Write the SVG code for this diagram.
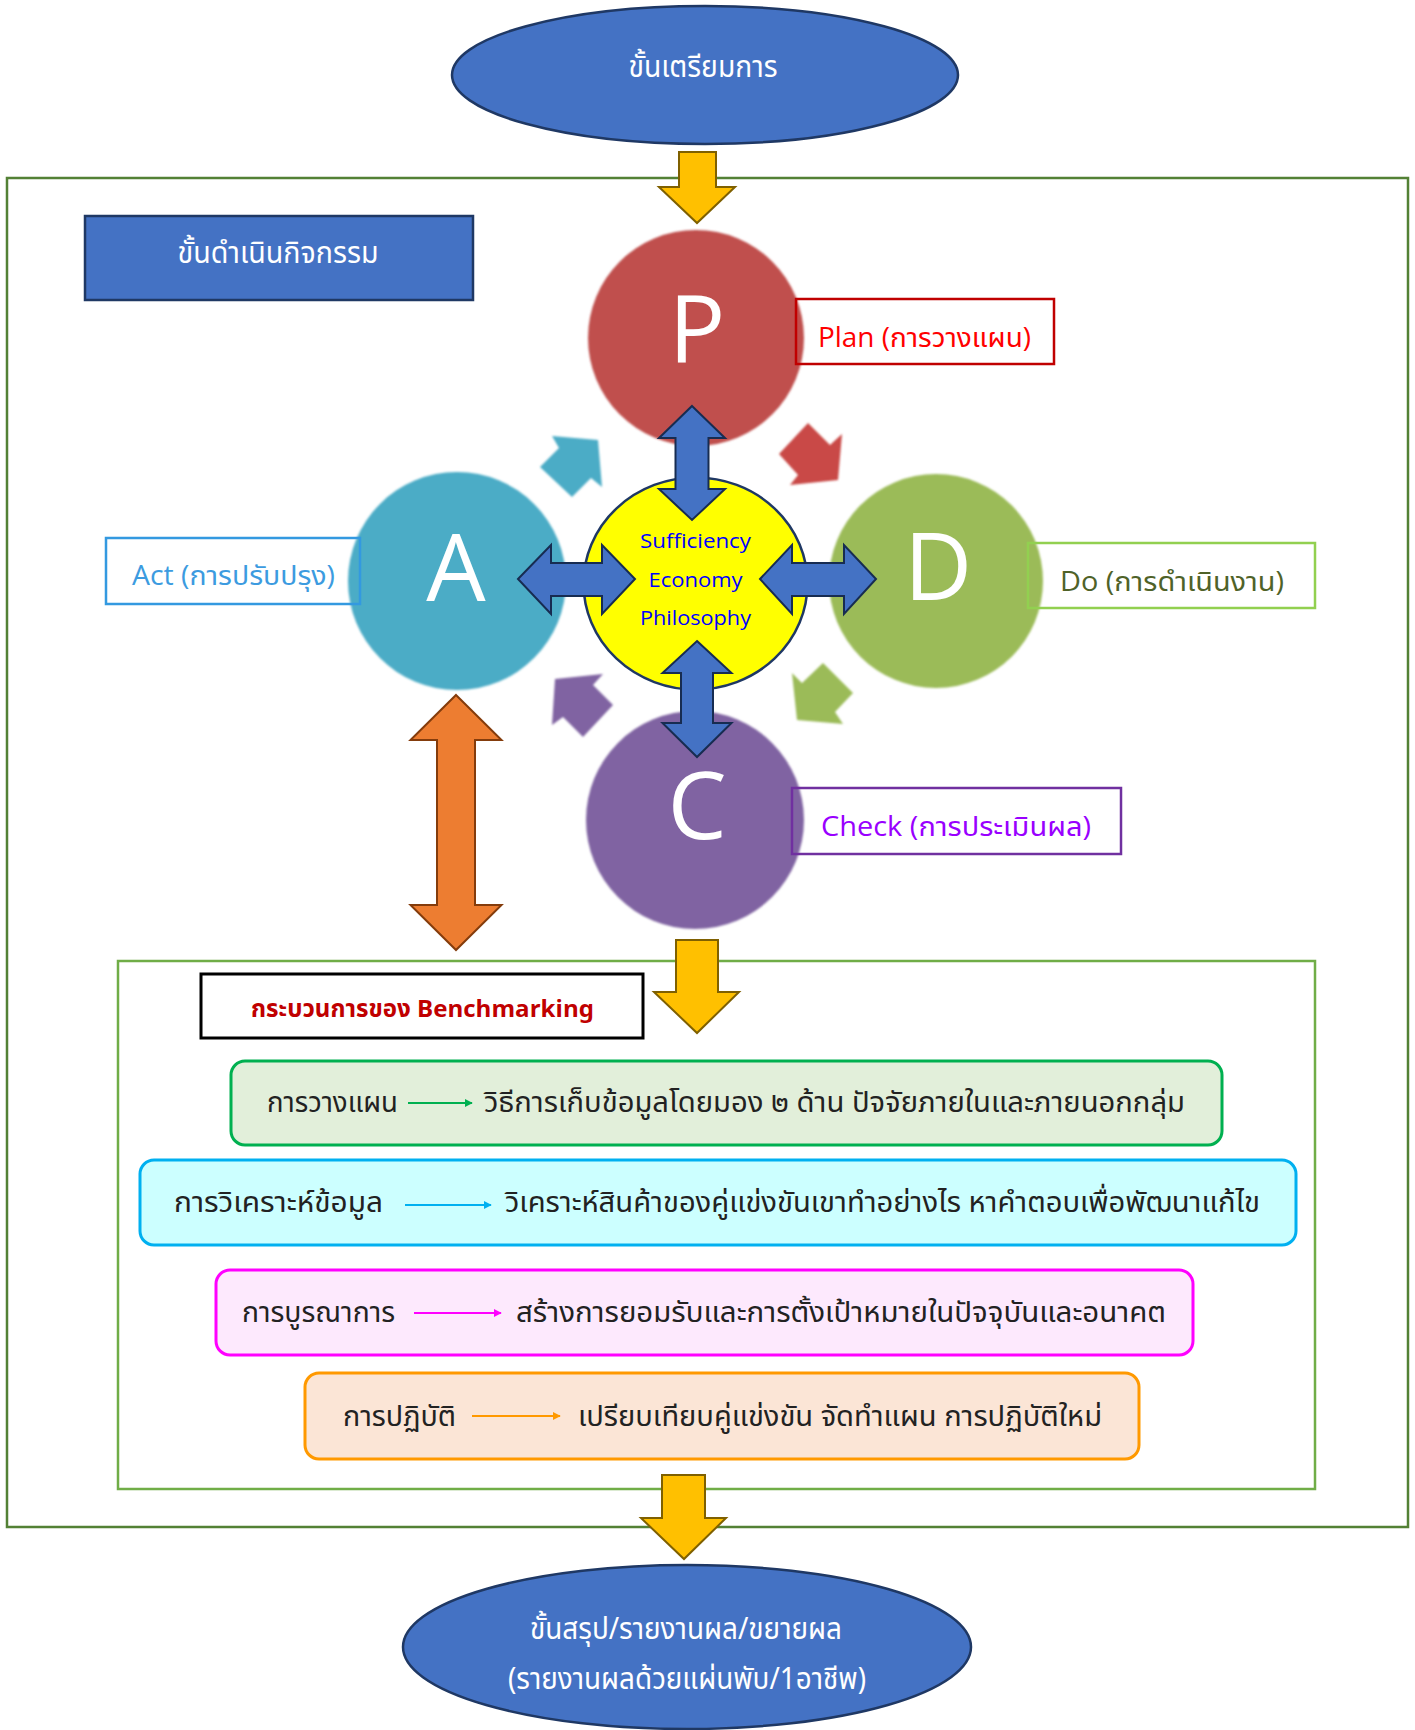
<svg xmlns="http://www.w3.org/2000/svg" width="1415" height="1730" viewBox="0 0 1415 1730">
<defs>
<style>
.th{font-family:"Noto Sans Thai","Noto Sans","Open Sans",sans-serif;}
.lat{font-family:"Open Sans","Noto Sans Thai","Noto Sans",sans-serif;}
.wt{fill:#ffffff;}
.blueshape{fill:#4472C4;stroke:#1F3864;stroke-width:2.5;}
.yarrow{fill:#FFC000;stroke:#7F6000;stroke-width:2;}
.barrow{fill:#4472C4;stroke:#172C51;stroke-width:2;stroke-linejoin:miter;}
.letter{font-family:"Open Sans","Noto Sans",sans-serif;font-size:94px;fill:#ffffff;text-anchor:middle;}
.lbl{fill:none;stroke-width:2.5;}
.lbltext{font-size:27px;}
.bt{font-size:28px;fill:#222222;}
</style>
<filter id="soft" x="-5%" y="-5%" width="110%" height="110%"><feGaussianBlur stdDeviation="1.2"/></filter>
<marker id="mg" viewBox="0 0 10 10" refX="9" refY="5" markerWidth="4" markerHeight="4" orient="auto"><path d="M0,0 L10,5 L0,10 z" fill="#00B050"/></marker>
<marker id="mc" viewBox="0 0 10 10" refX="9" refY="5" markerWidth="4" markerHeight="4" orient="auto"><path d="M0,0 L10,5 L0,10 z" fill="#00B0F0"/></marker>
<marker id="mp" viewBox="0 0 10 10" refX="9" refY="5" markerWidth="4" markerHeight="4" orient="auto"><path d="M0,0 L10,5 L0,10 z" fill="#FF00FF"/></marker>
<marker id="mo" viewBox="0 0 10 10" refX="9" refY="5" markerWidth="4" markerHeight="4" orient="auto"><path d="M0,0 L10,5 L0,10 z" fill="#FF9900"/></marker>
</defs>
<rect x="0" y="0" width="1415" height="1730" fill="#ffffff"/>

<g id="frames">
<rect x="7" y="178" width="1401" height="1349" fill="none" stroke="#538135" stroke-width="2.5"/>
<rect x="118" y="961" width="1197" height="528" fill="none" stroke="#70AD47" stroke-width="2.5"/>
</g>

<g id="node-prepare">
<ellipse cx="705" cy="75" rx="253" ry="69" class="blueshape"/>
<text x="703" y="77" class="th wt" font-size="30" text-anchor="middle" textLength="149" lengthAdjust="spacingAndGlyphs">ขั้นเตรียมการ</text>
</g>

<g id="node-activity">
<rect x="85" y="216" width="388" height="84" class="blueshape"/>
<text x="278" y="263" class="th wt" font-size="30" text-anchor="middle" textLength="201" lengthAdjust="spacingAndGlyphs">ขั้นดำเนินกิจกรรม</text>
</g>

<g id="cycle-arrows">
<polygon points="540,467 559,448 552,436 598,440 602,487 591,478 572,497" fill="#4BACC6" filter="url(#soft)"/>
<polygon points="808,423 830,445 842,434 838,480 790,485 798,475 779,454" fill="#C94A47" filter="url(#soft)"/>
<polygon points="823,663 853,693 835,712 843,724 797,720 792,673 802,683" fill="#9BBB59" filter="url(#soft)"/>
<polygon points="555,679 603,674 593,685 613,705 583,737 563,717 552,725" fill="#8064A2" filter="url(#soft)"/>
</g>

<g id="node-P">
<circle cx="696" cy="338" r="108" fill="#C0504D" filter="url(#soft)"/>
<text x="697" y="362" class="letter">P</text>
</g>
<g id="node-A">
<circle cx="457" cy="581" r="109" fill="#4BACC6" filter="url(#soft)"/>
<text x="456" y="601" class="letter">A</text>
</g>
<g id="node-D">
<circle cx="936" cy="581" r="107" fill="#9BBB59" filter="url(#soft)"/>
<text x="938" y="600" class="letter">D</text>
</g>
<g id="node-C">
<circle cx="695" cy="820" r="109" fill="#8064A2" filter="url(#soft)"/>
<text x="697" y="839" class="letter">C</text>
</g>

<g id="node-sep">
<ellipse cx="695.5" cy="583.5" rx="112" ry="106" fill="#FFFF00" stroke="#1F3864" stroke-width="2.5"/>
<text x="695.5" y="548" class="lat" font-size="20" fill="#0000FF" text-anchor="middle" textLength="111" lengthAdjust="spacingAndGlyphs">Sufficiency</text>
<text x="695.5" y="587" class="lat" font-size="20" fill="#0000FF" text-anchor="middle" textLength="94" lengthAdjust="spacingAndGlyphs">Economy</text>
<text x="695.5" y="625" class="lat" font-size="20" fill="#0000FF" text-anchor="middle" textLength="111" lengthAdjust="spacingAndGlyphs">Philosophy</text>
</g>

<g id="label-plan">
<rect x="796" y="299" width="258" height="65" class="lbl" stroke="#C00000"/>
<text x="818" y="347" class="lat lbltext" fill="#FF0000" textLength="213" lengthAdjust="spacingAndGlyphs">Plan (การวางแผน)</text>
</g>
<g id="label-act">
<rect x="106" y="538" width="254" height="66" class="lbl" stroke="#3399E0"/>
<text x="132" y="585" class="lat lbltext" fill="#3C9BE0" textLength="203" lengthAdjust="spacingAndGlyphs">Act (การปรับปรุง)</text>
</g>
<g id="label-do">
<rect x="1028" y="543" width="287" height="65" class="lbl" stroke="#92D050"/>
<text x="1060" y="591" class="lat lbltext" fill="#4F6228" textLength="224" lengthAdjust="spacingAndGlyphs">Do (การดำเนินงาน)</text>
</g>
<g id="label-check">
<rect x="792" y="788" width="329" height="66" class="lbl" stroke="#7030A0"/>
<text x="821" y="836" class="lat lbltext" fill="#9900FF" textLength="270" lengthAdjust="spacingAndGlyphs">Check (การประเมินผล)</text>
</g>

<g id="connectors">
<polygon class="yarrow" points="679,152 716,152 716,187 735,187 697,223 659,187 679,187"/>
<polygon class="yarrow" points="676,940 718,940 718,992 739,992 697,1033 654,992 676,992"/>
<polygon class="yarrow" points="662,1475 705,1475 705,1518 726,1518 684,1559 641,1518 662,1518"/>
<polygon class="barrow" points="692,406 725,438 708.5,438 708.5,489 725,489 692,520 659,489 675.5,489 675.5,438 659,438"/>
<polygon class="barrow" points="697,641 731.5,673 713,673 713,723 731.5,723 697,757 662.5,723 681,723 681,673 662.5,673"/>
<polygon class="barrow" points="518,579 551,545 551,563 602,563 602,545 635,579 602,614 602,596 551,596 551,614"/>
<polygon class="barrow" points="760,579 792,545 792,563 844,563 844,545 876,579 844,614 844,596 792,596 792,614"/>
<polygon points="456,695 501.5,740 475,740 475,905 501.5,905 456,950 410.5,905 437,905 437,740 410.5,740" fill="#ED7D31" stroke="#843C0C" stroke-width="2"/>
</g>

<g id="node-bench-title">
<rect x="201" y="974" width="442" height="64" fill="#ffffff" stroke="#000000" stroke-width="3"/>
<text x="251" y="1017" class="th" font-size="24" font-weight="bold" fill="#C00000" textLength="343" lengthAdjust="spacingAndGlyphs">กระบวนการของ Benchmarking</text>
</g>

<g id="node-step1">
<rect x="231" y="1061" width="991" height="84" rx="14" fill="#E2EFDA" stroke="#00B050" stroke-width="3"/>
<text x="267" y="1112" class="th bt" textLength="131" lengthAdjust="spacingAndGlyphs">การวางแผน</text>
<line x1="408" y1="1103" x2="472" y2="1103" stroke="#00B050" stroke-width="2" marker-end="url(#mg)"/>
<text x="484" y="1112" class="th bt" textLength="701" lengthAdjust="spacingAndGlyphs">วิธีการเก็บข้อมูลโดยมอง ๒ ด้าน ปัจจัยภายในและภายนอกกลุ่ม</text>
</g>
<g id="node-step2">
<rect x="140" y="1160" width="1156" height="85" rx="14" fill="#CCFFFF" stroke="#00B0F0" stroke-width="3"/>
<text x="174" y="1212" class="th bt" textLength="209" lengthAdjust="spacingAndGlyphs">การวิเคราะห์ข้อมูล</text>
<line x1="405" y1="1205" x2="491" y2="1205" stroke="#00B0F0" stroke-width="2" marker-end="url(#mc)"/>
<text x="505" y="1212" class="th bt" textLength="755" lengthAdjust="spacingAndGlyphs">วิเคราะห์สินค้าของคู่แข่งขันเขาทำอย่างไร หาคำตอบเพื่อพัฒนาแก้ไข</text>
</g>
<g id="node-step3">
<rect x="216" y="1270" width="977" height="85" rx="14" fill="#FDE9FD" stroke="#FF00FF" stroke-width="3"/>
<text x="242" y="1322" class="th bt" textLength="153" lengthAdjust="spacingAndGlyphs">การบูรณาการ</text>
<line x1="414" y1="1313" x2="501" y2="1313" stroke="#FF00FF" stroke-width="2" marker-end="url(#mp)"/>
<text x="516" y="1322" class="th bt" textLength="650" lengthAdjust="spacingAndGlyphs">สร้างการยอมรับและการตั้งเป้าหมายในปัจจุบันและอนาคต</text>
</g>
<g id="node-step4">
<rect x="305" y="1373" width="834" height="86" rx="14" fill="#FBE5D6" stroke="#FF9900" stroke-width="3"/>
<text x="343" y="1426" class="th bt" textLength="113" lengthAdjust="spacingAndGlyphs">การปฏิบัติ</text>
<line x1="472" y1="1416" x2="560" y2="1416" stroke="#FF9900" stroke-width="2" marker-end="url(#mo)"/>
<text x="578" y="1426" class="th bt" textLength="524" lengthAdjust="spacingAndGlyphs">เปรียบเทียบคู่แข่งขัน จัดทำแผน การปฏิบัติใหม่</text>
</g>

<g id="node-summary">
<ellipse cx="687" cy="1647" rx="284" ry="82" class="blueshape"/>
<text x="686" y="1639" class="th wt" font-size="30" text-anchor="middle" textLength="312" lengthAdjust="spacingAndGlyphs">ขั้นสรุป/รายงานผล/ขยายผล</text>
<text x="687" y="1689" class="th wt" font-size="30" text-anchor="middle" textLength="358" lengthAdjust="spacingAndGlyphs">(รายงานผลด้วยแผ่นพับ/1อาชีพ)</text>
</g>
</svg>
